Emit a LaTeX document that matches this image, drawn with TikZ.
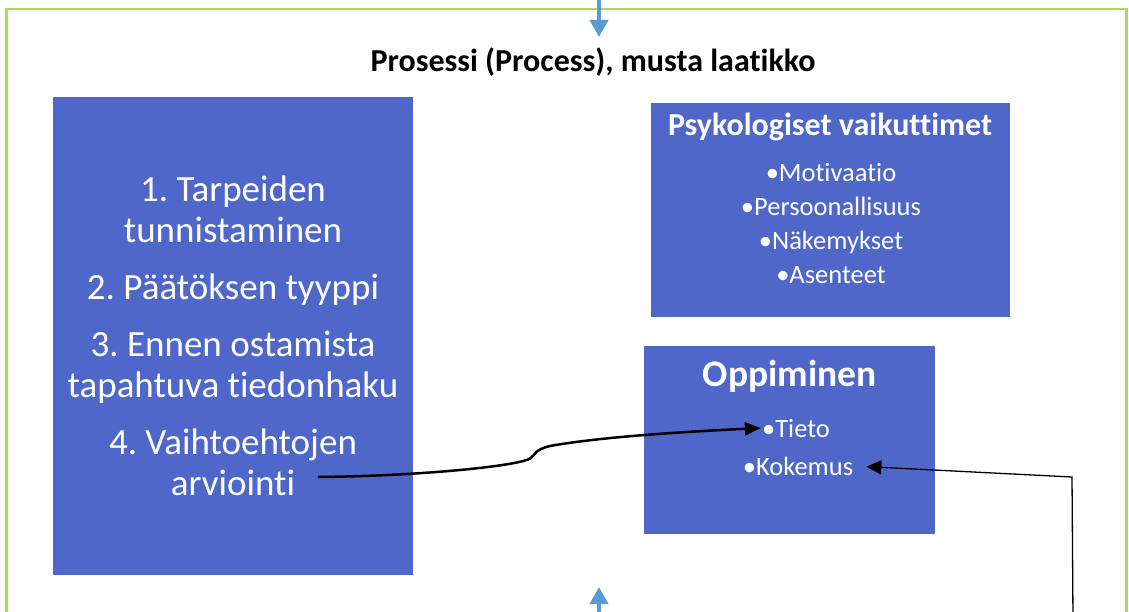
\documentclass[tikz,border=0pt]{standalone}
\usepackage{fontspec}
\setmainfont[Ligatures=NoCommon]{Carlito}
\usetikzlibrary{arrows.meta,positioning}
\definecolor{boxblue}{HTML}{4E67C8}
\definecolor{framegreen}{HTML}{A3DD5A}
\definecolor{flowblue}{HTML}{5B9BD5}
\frenchspacing

\begin{document}
\begin{tikzpicture}[x=1pt,y=-1pt,>=Stealth,
  panel/.style={fill=boxblue,draw=none,inner sep=0pt},
  boxtext/.style={text=white,align=center,inner sep=1pt},
  flow/.style={flowblue,line width=4pt,-{Triangle[length=17pt,width=18pt]}}]
\useasboundingbox (0,0) rectangle (1129,612);
\clip (0,0) rectangle (1129,612);
% frame of the process
\node[draw=framegreen,line width=2.5pt,minimum width=1120,minimum height=700,inner sep=0pt] (process) at (566.5,359) {};
\node[font=\bfseries\fontsize{32}{36}\selectfont] (title) at (593,62) {Prosessi (Process), musta laatikko};
% decision steps
\node[panel,minimum width=360,minimum height=478] (steps) at (233,336) {};
\node[boxtext,font=\fontsize{37}{41}\selectfont] (steplist) at (233,335.5) {1. Tarpeiden\\tunnistaminen\\[16pt]2. Päätöksen tyyppi\\[16pt]3. Ennen ostamista\\tapahtuva tiedonhaku\\[16pt]4. Vaihtoehtojen\\arviointi};
\coordinate (arvio) at (318,477);
% psychological factors
\node[panel,minimum width=359,minimum height=214] (psych) at (830.5,210) {};
\node[boxtext,font=\bfseries\fontsize{32}{36}\selectfont] (psychtitle) at (830,127) {Psykologiset vaikuttimet};
\node[boxtext,font=\fontsize{26.5}{34}\selectfont] (psychlist) at (831,223.5) {•Motivaatio\\•Persoonallisuus\\•Näkemykset\\•Asenteet};
% learning
\node[panel,minimum width=291,minimum height=188] (learn) at (789.5,440) {};
\node[boxtext,font=\bfseries\fontsize{37.5}{40}\selectfont] (learntitle) at (789.5,376) {Oppiminen};
\node[boxtext,font=\fontsize{26.5}{32}\selectfont] (tieto) at (796,428) {•Tieto};
\node[boxtext,font=\fontsize{26.5}{32}\selectfont] (kokemus) at (798,466) {•Kokemus};
% connectors
\draw[line width=2.5pt,-{Triangle[length=16pt,width=13pt]}] (arvio) .. controls (420,476) and (520,466) .. (531,458) .. controls (536,454) and (534,450) .. (550,446) .. controls (600,437) and (680,432) .. (tieto.west);
\coordinate (loopin) at (1073,620);
\coordinate (loopturn) at (1072,477);
\draw[line width=1.3pt,-{Triangle[length=15pt,width=14pt]},shorten >=12pt] (loopin) -- (loopturn) -- (kokemus.east);
% flow in and out
\coordinate (inflow) at (599,-5);
\coordinate (procin) at (599,37);
\coordinate (outflow) at (599,625);
\coordinate (procout) at (599,587);
\draw[flow] (inflow) -- (procin);
\draw[flow] (outflow) -- (procout);
\end{tikzpicture}
\end{document}
